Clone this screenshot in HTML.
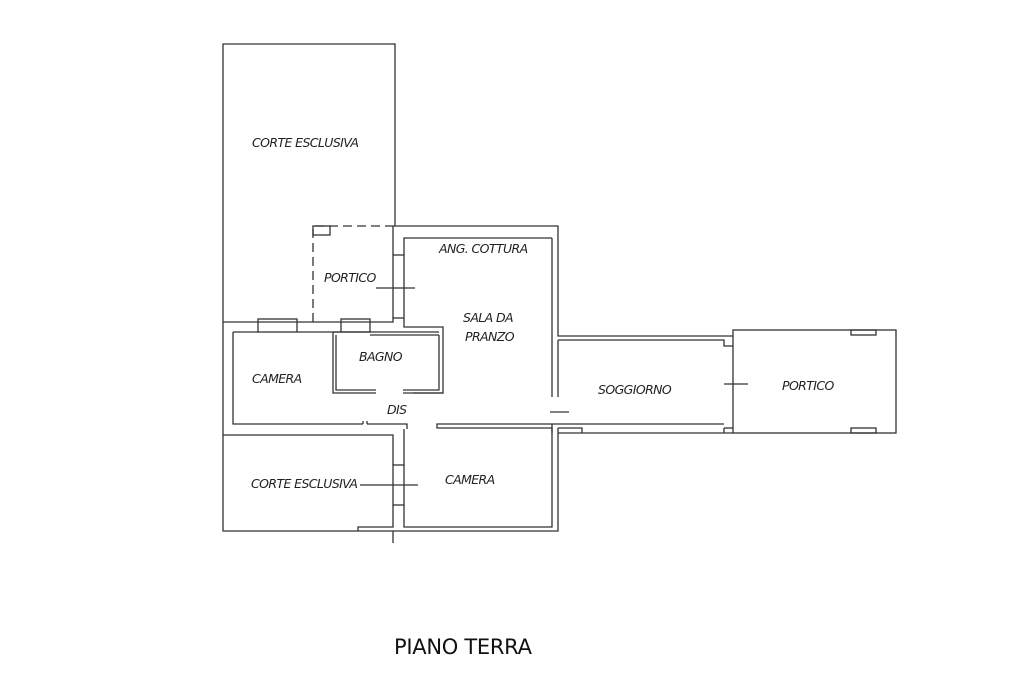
<!DOCTYPE html>
<html><head><meta charset="utf-8"><style>
html,body{margin:0;padding:0;background:#fff;width:1024px;height:682px;overflow:hidden}
svg{display:block}
text{font-family:"DejaVu Sans","Liberation Sans",sans-serif;font-style:italic;font-size:12.5px;fill:#222;letter-spacing:-0.6px}
</style></head><body>
<svg width="1024" height="682" viewBox="0 0 1024 682" xmlns="http://www.w3.org/2000/svg">
<g stroke="#333" stroke-width="1.3" fill="none">
<!-- corte top -->
<polyline points="395,226 395,44 223,44 223,531 393,531"/>
<!-- portico dashed -->
<polyline points="313,322 313,226 393,226" stroke-dasharray="9,5"/>
<rect x="313" y="226" width="17" height="9"/>
<!-- main block outer -->
<polyline points="393,226 558,226 558,336 733,336"/>
<polyline points="393,226 393,255"/>
<polyline points="393,318 393,322 223,322"/>
<!-- portico door -->
<rect x="393" y="255" width="11" height="63"/>
<line x1="376" y1="288" x2="415" y2="288"/>
<!-- sala inner -->
<polyline points="404,318 404,327 443,327 443,393 413,393"/>
<polyline points="552,238 404,238 404,255"/>
<polyline points="552,238 552,397"/>
<!-- camera left -->
<polyline points="233,332 258,332"/><polyline points="297,332 341,332"/><polyline points="370,332 333,332"/>
<rect x="258" y="319" width="39" height="13"/>
<rect x="341" y="319" width="29" height="13"/>
<polyline points="233,332 233,424 363,424"/>
<polyline points="367,424 407,424 407,429"/>
<!-- bagno -->
<polyline points="370,332 439,332"/>
<polyline points="333,332 333,393 376,393"/>
<polyline points="336,335 336,390 376,390"/>
<polyline points="439,335 439,390 403,390"/>
<polyline points="370,335 439,335"/>
<polyline points="403,393 443,393"/>
<line x1="363" y1="421" x2="363" y2="424"/><line x1="367" y1="421" x2="367" y2="424"/>
<!-- dis / lower -->
<polyline points="223,435 393,435 393,465"/>
<polyline points="404,429 404,465"/>
<polyline points="393,505 393,527 358,527 358,531"/>
<polyline points="404,505 404,527 552,527 552,428 437,428 437,424 558,424"/>
<line x1="393" y1="531" x2="393" y2="543"/>
<polyline points="393,531 558,531 558,428"/>
<rect x="393" y="465" width="11" height="40"/>
<line x1="360" y1="485" x2="418" y2="485"/>
<!-- soggiorno -->
<polyline points="558,340 558,397"/>
<polyline points="558,340 724,340 724,346 733,346"/>
<polyline points="552,424 552,433"/>
<polyline points="558,424 724,424"/>
<polyline points="558,428 582,428 582,433 733,433"/>
<polyline points="582,433 558,433"/>
<polyline points="724,428 724,433"/>
<line x1="724" y1="428" x2="733" y2="428"/>
<line x1="550" y1="412" x2="569" y2="412"/>
<line x1="724" y1="384" x2="748" y2="384"/>
<!-- portico right -->
<rect x="733" y="330" width="163" height="103"/>
<rect x="851" y="330" width="25" height="5"/>
<rect x="851" y="428" width="25" height="5"/>
</g>
<text x="252" y="147">CORTE ESCLUSIVA</text>
<text x="324" y="282">PORTICO</text>
<text x="439" y="253">ANG. COTTURA</text>
<text x="463" y="322">SALA DA</text>
<text x="465" y="341">PRANZO</text>
<text x="359" y="361">BAGNO</text>
<text x="252" y="383">CAMERA</text>
<text x="387" y="414">DIS</text>
<text x="251" y="488">CORTE ESCLUSIVA</text>
<text x="445" y="484">CAMERA</text>
<text x="598" y="394">SOGGIORNO</text>
<text x="782" y="390">PORTICO</text>
<text x="394" y="654" style="font-style:normal;font-size:21px;fill:#111;letter-spacing:-0.3px">PIANO TERRA</text>
</svg>
</body></html>
